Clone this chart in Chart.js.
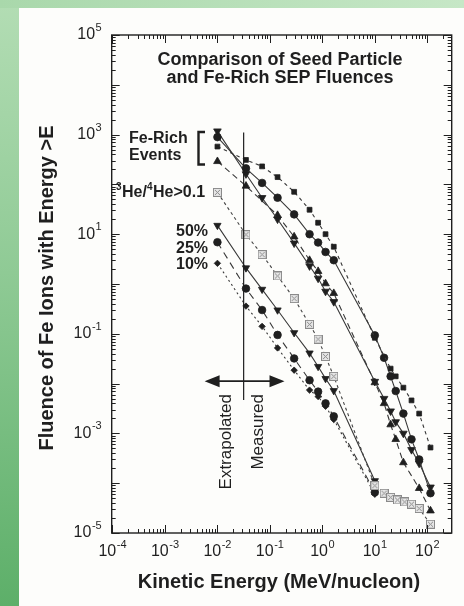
<!DOCTYPE html>
<html>
<head>
<meta charset="utf-8">
<script src="https://cdn.jsdelivr.net/npm/chart.js@4.4.0/dist/chart.umd.min.js"></script>
<style>
  html, body { margin: 0; padding: 0; background: #fdfdfb; }
  #wrap { position: relative; width: 464px; height: 606px; overflow: hidden; }
  #edgeLeft { position: absolute; left: 0; top: 0; width: 19px; height: 606px;
    background: linear-gradient(to bottom, #b3ddb4 0%, #8fca95 45%, #5daf69 100%); }
  #edgeTop { position: absolute; left: 0; top: 0; width: 464px; height: 8px;
    background: linear-gradient(to right, #a9d8ab, #c6e7c6); }
  canvas { position: absolute; left: 0; top: 0; }
</style>
</head>
<body>
<div id="wrap">
  <div id="edgeLeft"></div>
  <div id="edgeTop"></div>
  <canvas id="c" width="464" height="606"></canvas>
</div>
<script>
// Kinetic energies (MeV/nucleon) and fluences of Fe ions with energy > E

// Fe-rich SEP events
const fe1Energy  = [0.01, 0.035, 0.071, 0.14, 0.29, 0.57, 0.83, 1.15, 1.65, 10, 20, 25, 35, 50, 70, 115];
const fe1Fluence = [575, 310, 230, 140, 71, 31, 17, 10, 5.6, 0.083, 0.020, 0.014, 0.0083, 0.0046, 0.0025, 0.00052];

const fe2Energy  = [0.01, 0.035, 0.071, 0.14, 0.29, 0.57, 0.83, 1.15, 1.65, 10, 15, 20, 25, 35, 50, 70, 115];
const fe2Fluence = [890, 210, 107, 54, 25, 10, 6.8, 4.4, 3.0, 0.093, 0.033, 0.014, 0.0071, 0.0025, 0.00076, 0.00030, 0.000063];

const fe3Energy  = [0.01, 0.035, 0.071, 0.14, 0.29, 0.57, 0.83, 1.15, 1.65, 10, 15, 20, 25, 35, 50, 70, 115];
const fe3Fluence = [1175, 162, 54, 20, 6.6, 2.3, 1.3, 0.71, 0.44, 0.011, 0.0050, 0.0028, 0.0017, 0.0010, 0.00047, 0.00025, 0.000083];

const fe4Energy  = [0.01, 0.035, 0.14, 0.29, 0.57, 0.83, 1.15, 1.65, 10, 15, 20, 25, 35, 70, 115];
const fe4Fluence = [290, 93, 24, 8.9, 3.0, 1.8, 1.02, 0.65, 0.0105, 0.0040, 0.0015, 0.00076, 0.00026, 0.000079, 0.000028];

// 3He/4He > 0.1 periods
const he3Energy  = [0.01, 0.035, 0.071, 0.14, 0.29, 0.57, 0.83, 1.15, 1.65, 10, 15, 20, 27, 37, 50, 70, 115];
const he3Fluence = [69, 9.8, 3.9, 1.45, 0.51, 0.155, 0.078, 0.035, 0.014, 0.000089, 0.000063, 0.000052, 0.000046, 0.000042, 0.000038, 0.000031, 0.000015];

// Seed population percentiles
const pctEnergy  = [0.01, 0.035, 0.071, 0.14, 0.29, 0.57, 0.83, 1.15, 1.65, 10];
const pct50Fluence = [15, 2.1, 0.78, 0.30, 0.105, 0.041, 0.022, 0.0126, 0.0072, 0.000112];
const pct25Fluence = [6.9, 0.81, 0.30, 0.095, 0.032, 0.0117, 0.0069, 0.0040, 0.0022, 0.000066];
const pct10Fluence = [2.6, 0.36, 0.141, 0.052, 0.0186, 0.0074, 0.0055, 0.0035, 0.0019, 0.00006];

// Axis decades that carry labels
const xTickExponents = [-4, -3, -2, -1, 0, 1, 2];
const yTickExponents = [5, 3, 1, -1, -3, -5];

// Boundary between extrapolated and measured energies
const dividerEnergy = 0.0316;
const dividerSpan   = [1100, 0.0047];
const arrowSpan     = [0.0057, 0.19];
const arrowLevel    = 0.0112;

const ink = '#1f1f1f';
const lineInk = '#383838';
const FONT = '"Liberation Sans", Arial, Helvetica, sans-serif';

function pairs(E, F) { return E.map((e, i) => ({ x: e, y: F[i] })); }

function boxCross(size) {
  const c = document.createElement('canvas');
  c.width = size; c.height = size;
  const g = c.getContext('2d');
  g.fillStyle = '#e6e6e6';
  g.fillRect(0.5, 0.5, size - 1, size - 1);
  g.strokeStyle = '#8a8a8a';
  g.lineWidth = 1;
  g.strokeRect(0.5, 0.5, size - 1, size - 1);
  g.beginPath();
  g.moveTo(2, 2); g.lineTo(size - 2, size - 2);
  g.moveTo(size - 2, 2); g.lineTo(2, size - 2);
  g.stroke();
  return c;
}

function series(label, E, F, style) {
  return Object.assign({
    label,
    data: pairs(E, F),
    showLine: true,
    borderColor: lineInk,
    borderWidth: 1.1,
    backgroundColor: ink,
    pointBackgroundColor: ink,
    pointBorderColor: ink,
    pointBorderWidth: 0.8,
    tension: 0
  }, style);
}

const datasets = [
  series('Fe-rich event 1', fe1Energy, fe1Fluence, { pointStyle: 'rect', pointRadius: 3.4, borderDash: [3.5, 3.5] }),
  series('Fe-rich event 2', fe2Energy, fe2Fluence, { pointStyle: 'circle', pointRadius: 3.8 }),
  series('Fe-rich event 3', fe3Energy, fe3Fluence, { pointStyle: 'triangle', pointRotation: 180, pointRadius: 4.4 }),
  series('Fe-rich event 4', fe4Energy, fe4Fluence, { pointStyle: 'triangle', pointRadius: 4.4, borderDash: [6, 4] }),
  series('3He/4He>0.1', he3Energy, he3Fluence, { pointStyle: boxCross(9), borderDash: [3, 3], borderColor: '#444' }),
  series('50%', pctEnergy, pct50Fluence, { pointStyle: 'triangle', pointRotation: 180, pointRadius: 4.2 }),
  series('25%', pctEnergy, pct25Fluence, { pointStyle: 'circle', pointRadius: 3.8, borderDash: [7, 5] }),
  series('10%', pctEnergy, pct10Fluence, { pointStyle: 'rectRot', pointRadius: 3.2, borderDash: [2, 3] })
];

function drawPower(ctx, exp, x, y, align) {
  const base = '10', sup = String(exp);
  ctx.font = '16px ' + FONT;
  const wb = ctx.measureText(base).width;
  ctx.font = '11px ' + FONT;
  const ws = ctx.measureText(sup).width;
  const total = wb + ws + 0.5;
  let sx = align === 'center' ? x - total / 2 : x - total;
  ctx.textAlign = 'left';
  ctx.textBaseline = 'middle';
  ctx.font = '16px ' + FONT;
  ctx.fillText(base, sx, y);
  ctx.font = '11px ' + FONT;
  ctx.fillText(sup, sx + wb + 0.5, y - 7);
}

const figureDecor = {
  id: 'figureDecor',
  afterDatasetsDraw(chart) {
    const { ctx, chartArea: a, scales: { x, y } } = chart;
    ctx.save();
    ctx.strokeStyle = ink;
    ctx.fillStyle = ink;

    // divider between extrapolated and measured ranges
    const dx = x.getPixelForValue(dividerEnergy);
    ctx.lineWidth = 1.2;
    ctx.beginPath();
    ctx.moveTo(dx, y.getPixelForValue(dividerSpan[0]));
    ctx.lineTo(dx, y.getPixelForValue(dividerSpan[1]));
    ctx.stroke();

    // double-headed arrow
    const ay = y.getPixelForValue(arrowLevel);
    const ax0 = x.getPixelForValue(arrowSpan[0]);
    const ax1 = x.getPixelForValue(arrowSpan[1]);
    const head = 15, half = 6;
    ctx.lineWidth = 1.6;
    ctx.beginPath();
    ctx.moveTo(ax0 + head - 2, ay); ctx.lineTo(ax1 - head + 2, ay);
    ctx.stroke();
    ctx.beginPath();
    ctx.moveTo(ax0, ay); ctx.lineTo(ax0 + head, ay - half); ctx.lineTo(ax0 + head, ay + half); ctx.closePath();
    ctx.moveTo(ax1, ay); ctx.lineTo(ax1 - head, ay - half); ctx.lineTo(ax1 - head, ay + half); ctx.closePath();
    ctx.fill();

    // frame
    ctx.lineWidth = 1.4;
    ctx.strokeRect(a.left, a.top, a.right - a.left, a.bottom - a.top);

    // inward log ticks on all four sides
    ctx.lineWidth = 1;
    ctx.beginPath();
    for (let d = -6; d <= 5; d++) {
      for (let m = 1; m <= 9; m++) {
        const v = m * Math.pow(10, d);
        const len = m === 1 ? 8 : 4;
        if (v >= y.min * 0.999 && v <= y.max * 1.001) {
          const py = Math.round(y.getPixelForValue(v)) + 0.5;
          ctx.moveTo(a.left, py); ctx.lineTo(a.left + len, py);
          ctx.moveTo(a.right, py); ctx.lineTo(a.right - len, py);
        }
        if (v >= x.min && v <= x.max) {
          const px = Math.round(x.getPixelForValue(v)) + 0.5;
          ctx.moveTo(px, a.bottom); ctx.lineTo(px, a.bottom - len);
          ctx.moveTo(px, a.top); ctx.lineTo(px, a.top + len);
        }
      }
    }
    ctx.stroke();

    // tick labels
    xTickExponents.forEach(e => drawPower(ctx, e, x.getPixelForValue(Math.pow(10, e)), a.bottom + 19, 'center'));
    yTickExponents.forEach(e => drawPower(ctx, e, a.left - 10, y.getPixelForValue(Math.pow(10, e)), 'right'));

    // axis titles
    ctx.textAlign = 'center';
    ctx.textBaseline = 'middle';
    ctx.font = 'bold 20px ' + FONT;
    ctx.fillText('Kinetic Energy (MeV/nucleon)', 279, 582);
    ctx.save();
    ctx.translate(47, 288);
    ctx.rotate(-Math.PI / 2);
    ctx.fillText('Fluence of Fe Ions with Energy >E', 0, 0);
    ctx.restore();

    // title inside the frame
    ctx.font = 'bold 18px ' + FONT;
    ctx.fillText('Comparison of Seed Particle', 280, 60);
    ctx.fillText('and Fe-Rich SEP Fluences', 280, 78);

    // group labels
    ctx.font = 'bold 16px ' + FONT;
    ctx.textAlign = 'left';
    ctx.fillText('Fe-Rich', 129, 139);
    ctx.fillText('Events', 129, 156);
    ctx.lineWidth = 2.4;
    ctx.beginPath();
    ctx.moveTo(205, 132); ctx.lineTo(198.5, 132); ctx.lineTo(198.5, 164.5); ctx.lineTo(205, 164.5);
    ctx.stroke();

    // 3He/4He > 0.1 label with superscript mass numbers
    let tx = 116;
    const ty = 193;
    const piece = (txt, sup) => {
      ctx.font = sup ? 'bold 10px ' + FONT : 'bold 16px ' + FONT;
      ctx.fillText(txt, tx, sup ? ty - 6 : ty);
      tx += ctx.measureText(txt).width + (sup ? 0.5 : 0);
    };
    piece('3', true); piece('He/', false); piece('4', true); piece('He>0.1', false);

    ctx.textAlign = 'right';
    ctx.font = 'bold 16px ' + FONT;
    ctx.fillText('50%', 208, 232);
    ctx.fillText('25%', 208, 248.5);
    ctx.fillText('10%', 208, 265);

    // rotated range labels
    ctx.font = '17px ' + FONT;
    [['Extrapolated', 226], ['Measured', 258]].forEach(([t, px]) => {
      ctx.save();
      ctx.translate(px, 394);
      ctx.rotate(-Math.PI / 2);
      ctx.textAlign = 'right';
      ctx.textBaseline = 'middle';
      ctx.fillText(t, 0, 0);
      ctx.restore();
    });

    ctx.restore();
  }
};

new Chart(document.getElementById('c'), {
  type: 'scatter',
  data: { datasets },
  options: {
    responsive: false,
    animation: false,
    devicePixelRatio: 1,
    layout: { padding: { left: 111.7, right: 12.3, top: 35, bottom: 73 } },
    scales: {
      x: { type: 'logarithmic', display: false, min: Math.pow(10, -4.015), max: Math.pow(10, 2.465) },
      y: { type: 'logarithmic', display: false, min: 1e-5, max: 1e5 }
    },
    plugins: { legend: { display: false }, tooltip: { enabled: false } }
  },
  plugins: [figureDecor]
});
</script>
</body>
</html>
